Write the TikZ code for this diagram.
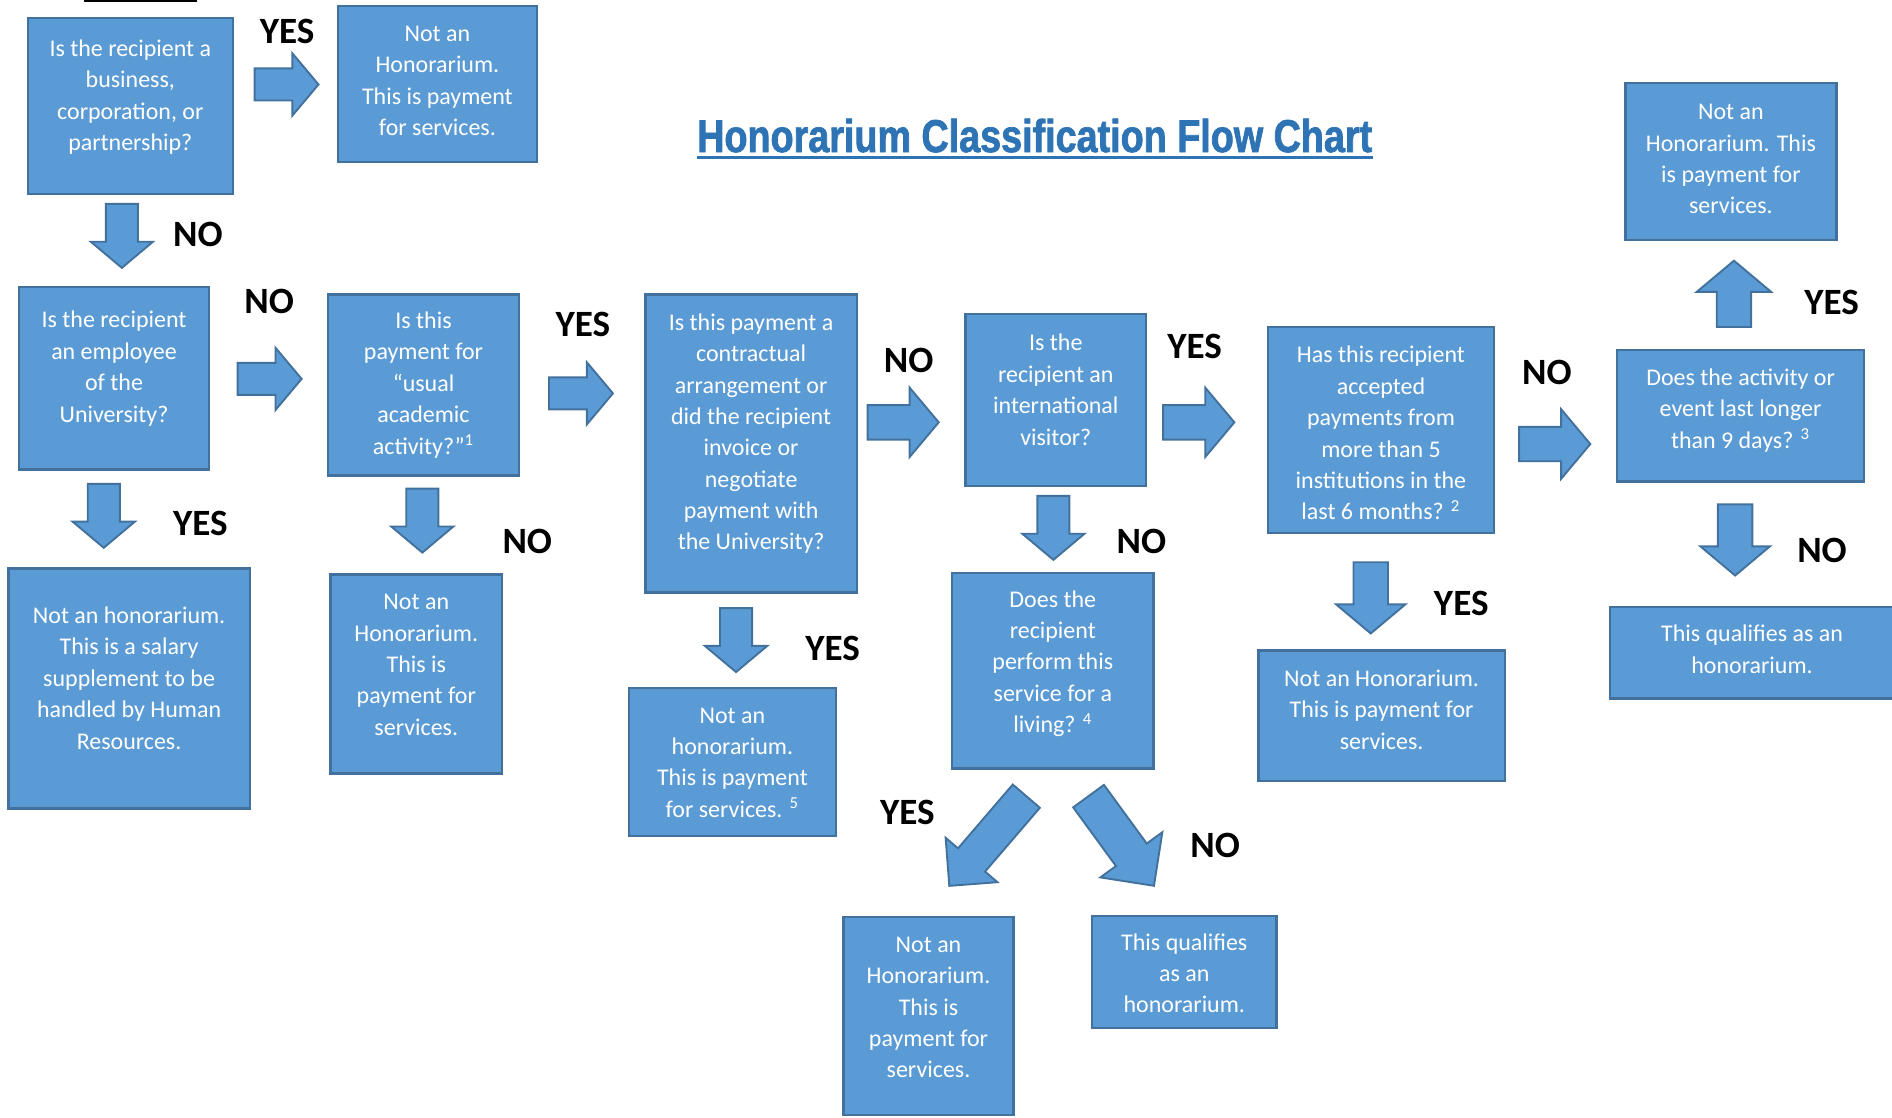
\documentclass[tikz,border=0pt]{standalone}
\usepackage{fontspec}
\setmainfont{Carlito}
\newfontfamily\titlefont[FakeStretch=0.82, BoldFeatures={FakeBold=1.6}]{Liberation Sans}
\usetikzlibrary{shapes.arrows}
\definecolor{boxfill}{RGB}{91,155,213}
\definecolor{boxline}{RGB}{65,113,156}
\definecolor{titleblue}{RGB}{46,116,181}
\tikzset{
  qbox/.style={rectangle, draw=boxline, fill=boxfill, line width=1.1pt, inner sep=0pt},
  qtext/.style={text=white, align=center, inner sep=0pt, font=\fontsize{11.3}{14.8}\selectfont},
  answer/.style={inner sep=0pt, font=\fontsize{17.5}{21}\selectfont\bfseries},
  barrow/.style={single arrow, draw=boxline, fill=boxfill, line width=0.9pt, anchor=tip,
    single arrow tip angle=100, minimum height=1.06cm, minimum width=1cm,
    inner sep=0.25cm, single arrow head extend=0.25cm},
  bigarrow/.style={barrow, minimum height=1.18cm, minimum width=1.12cm,
    inner sep=0.27cm, single arrow head extend=0.29cm},
  slantarrow/.style={barrow, single arrow tip angle=90}
}
\newcommand{\hcboxes}{
\node[qbox, minimum width=3.4cm, minimum height=2.92cm] (qbiz) at (108,88) {};
\node[qbox, minimum width=3.3cm, minimum height=2.58cm] (abiz) at (362.5,69.5) {};
\node[qbox, minimum width=3.14cm, minimum height=3.02cm] (qemp) at (94.5,313.5) {};
\node[qbox, minimum width=3.16cm, minimum height=3cm] (qusual) at (351,319) {};
\node[qbox, minimum width=3.5cm, minimum height=4.94cm] (qcontract) at (622.5,367.5) {};
\node[qbox, minimum width=3cm, minimum height=2.86cm] (qintl) at (875,331.5) {};
\node[qbox, minimum width=3.74cm, minimum height=3.42cm] (qinst) at (1144.5,356.5) {};
\node[qbox, minimum width=4.1cm, minimum height=2.18cm] (qdays) at (1442.5,344.5) {};
\node[qbox, minimum width=3.5cm, minimum height=2.6cm] (adays) at (1434.5,134) {};
\node[qbox, minimum width=4cm, minimum height=3.98cm] (aemp) at (107,570.5) {};
\node[qbox, minimum width=2.84cm, minimum height=3.3cm] (ausual) at (345,558.5) {};
\node[qbox, minimum width=3.44cm, minimum height=2.46cm] (acontract) at (607,631.5) {};
\node[qbox, minimum width=3.34cm, minimum height=3.24cm] (qliving) at (872.5,556) {};
\node[qbox, minimum width=4.08cm, minimum height=2.16cm] (ainst) at (1145,593) {};
\node[qbox, minimum width=4.72cm, minimum height=1.52cm] (qualdays) at (1452,541) {};
\node[qbox, minimum width=2.82cm, minimum height=3.28cm] (aliving) at (769.5,842) {};
\node[qbox, minimum width=3.06cm, minimum height=1.86cm] (qualliving) at (981.5,805.5) {};
}
\newcommand{\hctexts}{
\node[qtext, yshift=0.15cm] (qbiztext) at (qbiz) {Is the recipient a\\business,\\corporation, or\\partnership?};
\node[qtext, yshift=0.05cm] (abiztext) at (abiz) {Not an\\Honorarium.\\This is payment\\for services.};
\node[qtext, yshift=0.16cm] (qemptext) at (qemp) {Is the recipient\\an employee\\of the\\University?};
\node[qtext] (qusualtext) at (qusual) {Is this\\payment for\\“usual\\academic\\activity?”\textsuperscript{1}};
\node[qtext, yshift=0.16cm] (qcontracttext) at (qcontract) {Is this payment a\\contractual\\arrangement or\\did the recipient\\invoice or\\negotiate\\payment with\\the University?};
\node[qtext, yshift=0.17cm] (qintltext) at (qintl) {Is the\\recipient an\\international\\visitor?};
\node[qtext, yshift=-0.05cm] (qinsttext) at (qinst) {Has this recipient\\accepted\\payments from\\more than 5\\institutions in the\\last 6 months? \textsuperscript{2}};
\node[qtext, yshift=0.09cm] (qdaystext) at (qdays) {Does the activity or\\event last longer\\than 9 days? \textsuperscript{3}};
\node[qtext, yshift=0.04cm] (adaystext) at (adays) {Not an\\Honorarium. This\\is payment for\\services.};
\node[qtext, yshift=0.17cm] (aemptext) at (aemp) {Not an honorarium.\\This is a salary\\supplement to be\\handled by Human\\Resources.};
\node[qtext, yshift=0.15cm] (ausualtext) at (ausual) {Not an\\Honorarium.\\This is\\payment for\\services.};
\node[qtext, yshift=-0.01cm] (acontracttext) at (acontract) {Not an\\honorarium.\\This is payment\\for services. \textsuperscript{5}};
\node[qtext, yshift=0.12cm] (qlivingtext) at (qliving) {Does the\\recipient\\perform this\\service for a\\living? \textsuperscript{4}};
\node[qtext, yshift=0.1cm] (ainsttext) at (ainst) {Not an Honorarium.\\This is payment for\\services.};
\node[qtext, yshift=0.06cm] (qualdaystext) at (qualdays) {This qualifies as an\\honorarium.};
\node[qtext, yshift=0.14cm] (alivingtext) at (aliving) {Not an\\Honorarium.\\This is\\payment for\\services.};
\node[qtext, yshift=-0.02cm] (qualivingtext) at (qualliving) {This qualifies\\as an\\honorarium.};
}
\newcommand{\hcarrows}{
\node[barrow] (tobiz) at (265,70) {};
\node[barrow, rotate=270] (fromqbiz) at (101,223) {};
\node[barrow] (toqusual) at (251,314) {};
\node[barrow, rotate=270] (toaemp) at (86,455) {};
\node[barrow] (toqcontract) at (509,326) {};
\node[barrow, rotate=270] (toausual) at (350,459) {};
\node[bigarrow] (toqintl) at (779,350) {};
\node[barrow, rotate=270] (toacontract) at (610,558) {};
\node[bigarrow] (toqinst) at (1024,350) {};
\node[barrow, rotate=270] (toqliving) at (873,465) {};
\node[bigarrow] (toqdays) at (1319,368) {};
\node[bigarrow, rotate=90, minimum height=1.1cm, minimum width=1.2cm, single arrow head extend=0.33cm] (toadays) at (1437,215) {};
\node[bigarrow, rotate=270] (toqualdays) at (1438,478) {};
\node[bigarrow, rotate=270] (toainst) at (1136,526) {};
\node[slantarrow, rotate=229.35, minimum height=1.96cm, minimum width=1.1cm,
  inner sep=0.28cm, single arrow head extend=0.27cm] (toaliving) at (786,735) {};
\node[slantarrow, rotate=306.1, minimum height=1.84cm, minimum width=1.24cm,
  inner sep=0.3cm, single arrow head extend=0.32cm] (toqualliving) at (957,735) {};
}
\newcommand{\hcanswers}{
\node[answer] (yesbiz) at (238,26) {YES};
\node[answer] (nobiz) at (164,194) {NO};
\node[answer] (noemp) at (223,250) {NO};
\node[answer] (yesemp) at (166,434) {YES};
\node[answer] (yesusual) at (483,269) {YES};
\node[answer] (nousual) at (437,449) {NO};
\node[answer] (nocontract) at (753,299) {NO};
\node[answer] (yescontract) at (690,537) {YES};
\node[answer] (yesintl) at (990,287) {YES};
\node[answer] (nointl) at (946,449) {NO};
\node[answer] (noinst) at (1282,309) {NO};
\node[answer] (yesdays) at (1518,251) {YES};
\node[answer] (nodays) at (1510,456) {NO};
\node[answer] (yesinst) at (1211,500) {YES};
\node[answer] (yesliving) at (752,673) {YES};
\node[answer] (noliving) at (1007,701) {NO};
}
\begin{document}
\begin{tikzpicture}[x=0.02cm, y=-0.02cm]
\useasboundingbox (0,0) rectangle (1568,926);

% cut-off rule at the top
\draw[line width=1.2pt] (70,0.6) -- (163,0.6);

% title
\node[inner sep=0pt, anchor=base, text=titleblue, font=\titlefont\bfseries\fontsize{21.7}{26}\selectfont] (title) at (857.5,126) {Honorarium Classification Flow Chart};
\draw[titleblue, line width=1.4pt] ([yshift=-2.4pt]title.base west) -- ([yshift=-2.4pt]title.base east);

% boxes
\hcboxes
\hctexts

% arrows
\hcarrows

% answers
\hcanswers
\end{tikzpicture}
\end{document}
